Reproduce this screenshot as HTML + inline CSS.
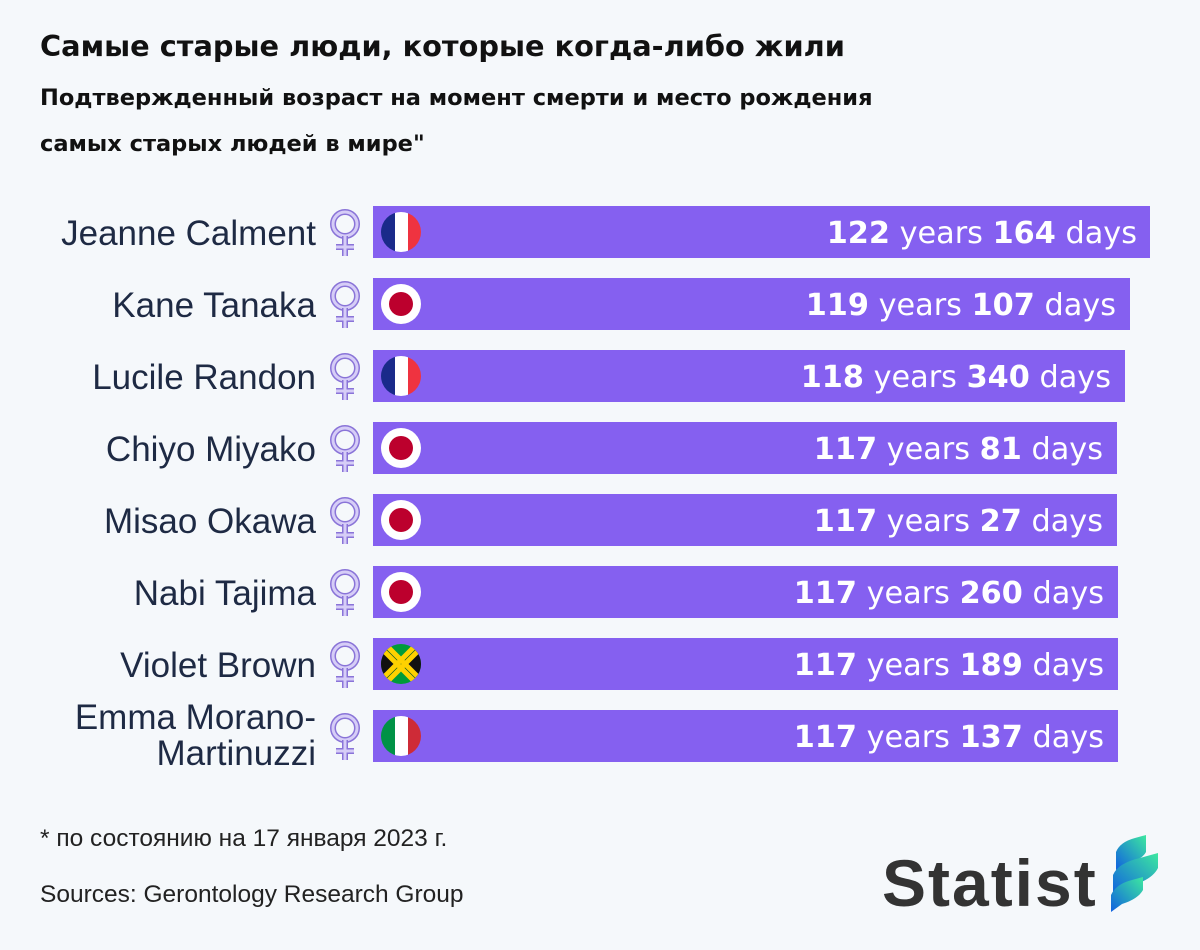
<!DOCTYPE html>
<html><head><meta charset="utf-8"><style>
body{margin:0;background:#f5f8fb;}
svg{display:block}
.t{font-family:"Liberation Sans","DejaVu Sans",sans-serif}
.d{font-family:"DejaVu Sans","Liberation Sans",sans-serif}
</style></head><body>
<svg width="1200" height="950" viewBox="0 0 1200 950" xmlns="http://www.w3.org/2000/svg">
<rect width="1200" height="950" fill="#f5f8fb"/>
<defs>
<clipPath id="c"><circle r="20"/></clipPath>
<linearGradient id="g" x1="0" y1="1" x2="1" y2="0"><stop offset="0" stop-color="#1060e0"/><stop offset="1" stop-color="#3de8a0"/></linearGradient>
<g id="fr" clip-path="url(#c)"><rect x="-20" y="-20" width="14" height="40" fill="#1a2a8a"/><rect x="-6" y="-20" width="13" height="40" fill="#fff"/><rect x="7" y="-20" width="13" height="40" fill="#ef3340"/></g>
<g id="jp"><circle r="20" fill="#fff"/><circle r="12" fill="#bc002d"/></g>
<g id="it" clip-path="url(#c)"><rect x="-20" y="-20" width="14" height="40" fill="#009246"/><rect x="-6" y="-20" width="13" height="40" fill="#fff"/><rect x="7" y="-20" width="13" height="40" fill="#ce2b37"/></g>
<g id="jm" clip-path="url(#c)"><rect x="-20" y="-20" width="40" height="40" fill="#009b3a"/><polygon points="-20,-20 0,0 -20,20" fill="#111"/><polygon points="20,-20 0,0 20,20" fill="#111"/><path d="M-20,-16 L16,20 M-20,16 L16,-20 M-16,-20 L20,16 M-16,20 L20,-16" stroke="#fed100" stroke-width="5"/></g>
<g id="fem"><circle cx="0" cy="-6" r="12" fill="none" stroke="#8a74d8" stroke-width="6"/><circle cx="0" cy="-6" r="12" fill="none" stroke="#d6cdf7" stroke-width="3"/><path d="M0,6 V26 M-9,17 H9" stroke="#8a74d8" stroke-width="6"/><path d="M0,6 V26 M-9,17 H9" stroke="#d6cdf7" stroke-width="3"/></g>
</defs>
<g class="d" font-weight="bold" fill="#111">
<text x="40" y="56" font-size="28.8">Самые старые люди, которые когда-либо жили</text>
<text x="40" y="105" font-size="22.5">Подтвержденный возраст на момент смерти и место рождения</text>
<text x="40" y="151" font-size="22.5">самых старых людей в мире"</text>
</g>
<g class="t" font-size="35" fill="#1e2a44" text-anchor="end">
<text x="316" y="245">Jeanne Calment</text>
<text x="316" y="317">Kane Tanaka</text>
<text x="316" y="389">Lucile Randon</text>
<text x="316" y="461">Chiyo Miyako</text>
<text x="316" y="533">Misao Okawa</text>
<text x="316" y="605">Nabi Tajima</text>
<text x="316" y="677">Violet Brown</text>
<text x="316" y="729">Emma Morano-</text>
<text x="316" y="765">Martinuzzi</text>
</g>
<g fill="#8560f0">
<rect x="373" y="206" width="777" height="52"/>
<rect x="373" y="278" width="757" height="52"/>
<rect x="373" y="350" width="752" height="52"/>
<rect x="373" y="422" width="744" height="52"/>
<rect x="373" y="494" width="744" height="52"/>
<rect x="373" y="566" width="745" height="52"/>
<rect x="373" y="638" width="745" height="52"/>
<rect x="373" y="710" width="745" height="52"/>
</g>
<use href="#fem" x="345" y="230"/><use href="#fem" x="345" y="302"/><use href="#fem" x="345" y="374"/><use href="#fem" x="345" y="446"/><use href="#fem" x="345" y="518"/><use href="#fem" x="345" y="590"/><use href="#fem" x="345" y="662"/><use href="#fem" x="345" y="734"/>
<use href="#fr" x="401" y="232"/><use href="#jp" x="401" y="304"/><use href="#fr" x="401" y="376"/><use href="#jp" x="401" y="448"/><use href="#jp" x="401" y="520"/><use href="#jp" x="401" y="592"/><use href="#jm" x="401" y="664"/><use href="#it" x="401" y="736"/>
<g class="d" font-size="30.3" fill="#fff" text-anchor="end">
<text x="1137" y="243"><tspan font-weight="bold">122</tspan> years <tspan font-weight="bold">164</tspan> days</text>
<text x="1116" y="315"><tspan font-weight="bold">119</tspan> years <tspan font-weight="bold">107</tspan> days</text>
<text x="1111" y="387"><tspan font-weight="bold">118</tspan> years <tspan font-weight="bold">340</tspan> days</text>
<text x="1103" y="459"><tspan font-weight="bold">117</tspan> years <tspan font-weight="bold">81</tspan> days</text>
<text x="1103" y="531"><tspan font-weight="bold">117</tspan> years <tspan font-weight="bold">27</tspan> days</text>
<text x="1104" y="603"><tspan font-weight="bold">117</tspan> years <tspan font-weight="bold">260</tspan> days</text>
<text x="1104" y="675"><tspan font-weight="bold">117</tspan> years <tspan font-weight="bold">189</tspan> days</text>
<text x="1104" y="747"><tspan font-weight="bold">117</tspan> years <tspan font-weight="bold">137</tspan> days</text>
</g>
<g class="t" font-size="24.5" fill="#222">
<text x="40" y="846">* по состоянию на 17 января 2023 г.</text>
<text x="40" y="902">Sources: Gerontology Research Group</text>
</g>
<text class="t" x="882" y="906" font-size="66" font-weight="bold" fill="#333" letter-spacing="2">Statist</text>
<g fill="url(#g)">
<path d="M1116,870 L1116,852 Q1120,842 1135,838 L1146,835 L1146,852 Q1142,860 1125,864 Z"/>
<path d="M1113,895 L1113,875 Q1118,863 1140,858 L1158,853 L1158,868 Q1152,880 1130,886 Z"/>
<path d="M1111,912 L1111,895 Q1116,884 1132,880 L1143,877 L1143,890 Q1138,899 1122,904 Z"/>
</g>
</svg>
</body></html>
